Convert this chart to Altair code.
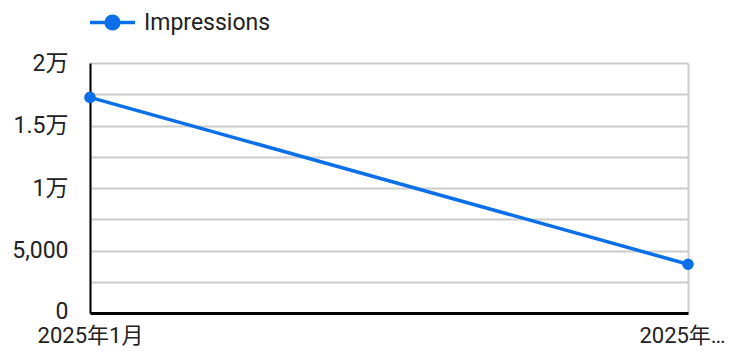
import altair as alt
import pandas as pd

months = ["2025年1月", "2025年2月"]
impressions = [17250, 3900]
series_name = "Impressions"

grid_values = [0, 2500, 5000, 7500, 10000, 12500, 15000, 17500, 20000]
label_values = [0, 5000, 10000, 15000, 20000]
label_texts = ["0", "5,000", "1万", "1.5万", "2万"]
x_display = {"2025年1月": "2025年1月", "2025年2月": "2025年…"}

df = pd.DataFrame({"month": months, "value": impressions, "series": [series_name] * len(months)})

FONT = "Roboto, 'Noto Sans CJK JP', sans-serif"
BLUE = "#0a6fe8"
FS = 23

y_expr = " : ".join(
    [f"datum.value == {v} ? '{t}'" for v, t in zip(label_values, label_texts)]
) + " : ''"
x_expr = " : ".join([f"datum.value == '{k}' ? '{v}'" for k, v in x_display.items()]) + " : datum.label"

legend_path = "M-1,0L1,0M0.28,0A0.28,0.28,0,1,1,-0.28,0A0.28,0.28,0,1,1,0.28,0Z"

base = alt.Chart(df).encode(
    x=alt.X(
        "month:O",
        sort=months,
        scale=alt.Scale(type="point", padding=0),
        axis=alt.Axis(
            title=None,
            labelAngle=0,
            labelExpr=x_expr,
            labelFont=FONT,
            labelFontSize=22,
            labelColor="#222222",
            labelPadding=12,
            labelOffset={"condition": {"test": "datum.value == '2025年2月'", "value": -6}, "value": 0},
            labelOverlap=False,
            labelBound=False,
            labelFlush=False,
            ticks=False,
            domainColor="#000000",
            domainWidth=3,
            grid=True,
            gridColor="#cccccc",
            gridWidth=2,
        ),
    ),
    y=alt.Y(
        "value:Q",
        scale=alt.Scale(domain=[0, 20000], nice=False),
        axis=alt.Axis(
            title=None,
            values=grid_values,
            labelExpr=y_expr,
            labelFont=FONT,
            labelFontSize=FS,
            labelColor="#222222",
            labelPadding=22,
            labelOffset={"condition": {"test": "datum.value == 0", "value": -2}, "value": 0},
            ticks=False,
            domainColor="#000000",
            domainWidth=2,
            gridColor="#cccccc",
            gridWidth=2,
        ),
    ),
    color=alt.Color(
        "series:N",
        scale=alt.Scale(range=[BLUE]),
        legend=alt.Legend(
            title=None,
            orient="none",
            legendX=-2,
            legendY=-65,
            symbolType=legend_path,
            symbolSize=2025,
            symbolStrokeWidth=3.5,
            symbolFillColor=BLUE,
            symbolStrokeColor=BLUE,
            labelFont=FONT,
            labelFontSize=FS,
            labelColor="#222222",
            labelOffset=7,
        ),
    ),
)

line = base.mark_line(strokeWidth=3.5)
points = base.mark_point(filled=True, size=135, opacity=1)

chart = (
    alt.layer(line, points)
    .properties(
        width=598,
        height=250,
        autosize=alt.AutoSizeParams(type="none"),
        padding={"left": 82, "top": 55, "right": 42, "bottom": 34},
    )
    .configure_view(stroke=None)
)

chart.save("out.html", embed_options={"renderer": "svg", "actions": False})
